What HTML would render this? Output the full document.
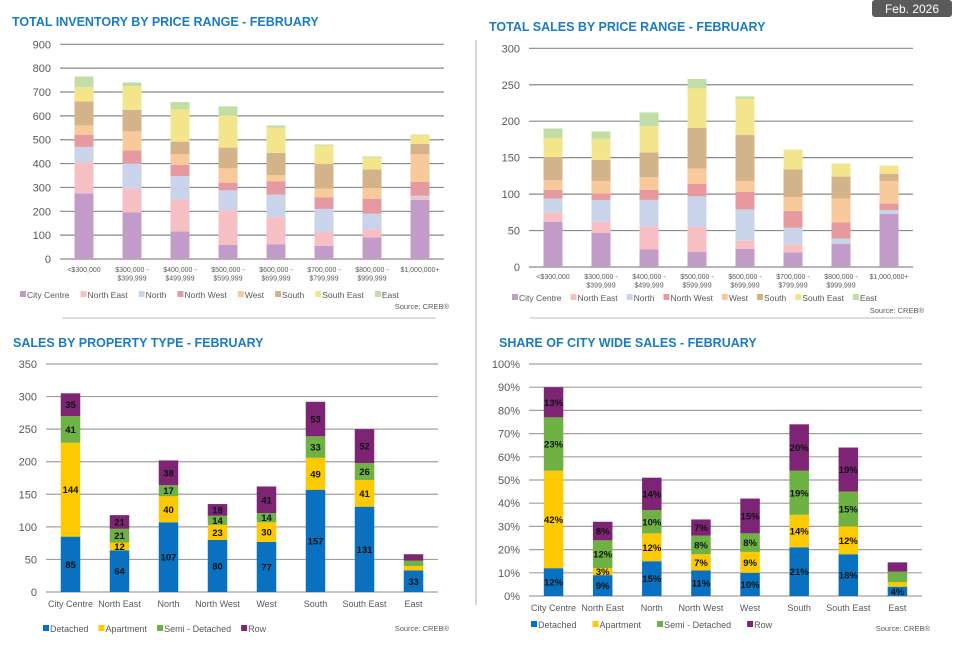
<!DOCTYPE html>
<html><head><meta charset="utf-8">
<style>
body{margin:0;background:#fff;width:956px;height:649px;overflow:hidden;font-family:"Liberation Sans",Arial,sans-serif}
svg{display:block}
.t{font-family:"Liberation Sans",Arial,sans-serif;font-weight:bold;fill:#1a7cc1;font-size:12.5px}
.ax{font-family:"Liberation Sans",Arial,sans-serif;fill:#595959}
</style></head>
<body>
<svg id="s" width="956" height="649" xmlns="http://www.w3.org/2000/svg">
<rect x="872" y="0" width="80" height="17" rx="3" fill="#5a5a5a"/>
<text x="912" y="13" text-anchor="middle" fill="#fff" font-size="12" font-family="Liberation Sans, sans-serif">Feb. 2026</text>
<line x1="476" y1="40" x2="476" y2="605" stroke="#c8c8c8" stroke-width="1.5"/>
<line x1="62" y1="318" x2="436" y2="318" stroke="#bbb"/>
<line x1="530" y1="318" x2="912" y2="318" stroke="#bbb"/>
<text class="t" x="12" y="26">TOTAL INVENTORY BY PRICE RANGE - FEBRUARY</text>
<text class="t" x="489" y="31">TOTAL SALES BY PRICE RANGE - FEBRUARY</text>
<text class="t" x="13" y="347">SALES BY PROPERTY TYPE - FEBRUARY</text>
<text class="t" x="499" y="347">SHARE OF CITY WIDE SALES - FEBRUARY</text>
</svg>
<script>
const priceCats=[["<$300,000"],["$300,000 -","$399,999"],["$400,000 -","$499,999"],["$500,000 -","$599,999"],["$600,000 -","$699,999"],["$700,000 -","$799,999"],["$800,000 -","$999,999"],["$1,000,000+"]];
const areaSeries=["City Centre","North East","North","North West","West","South","South East","East"];
const invCityCentre=[275,195,115,60,62,55,90,248];
const invNorthEast=[130,100,135,145,113,60,35,10];
const invNorth=[65,105,98,83,95,95,65,7];
const invNorthWest=[50,55,47,32,55,48,62,58];
const invWest=[40,80,45,60,27,37,46,117];
const invSouth=[100,90,52,87,93,103,77,42];
const invSouthEast=[60,100,135,135,105,77,50,38];
const invEast=[45,15,31,38,10,5,5,2];
const invTicks=[0,100,200,300,400,500,600,700,800,900];
const salesCityCentre=[62,47,24,21,25,20,32,73];
const salesNorthEast=[13,15,32,34,11,11,0,0];
const salesNorth=[19,30,36,42,43,23,7,5];
const salesNorthWest=[12,9,14,17,24,23,22,9];
const salesWest=[13,17,17,21,15,19,33,31];
const salesSouth=[32,29,34,56,63,38,30,10];
const salesSouthEast=[26,29,36,54,50,27,18,11];
const salesEast=[13,10,19,13,3,0,0,0];
const salesTicks=[0,50,100,150,200,250,300];
const areaCats=["City Centre","North East","North","North West","West","South","South East","East"];
const typeSeries=["Detached","Apartment","Semi - Detached","Row"];
const typeDetached=[85,64,107,80,77,157,131,33];
const typeApartment=[144,12,40,23,30,49,41,7];
const typeSemi=[41,21,17,14,14,33,26,8];
const typeRow=[35,21,38,18,41,53,52,10];
const typeLabelsShown=[[1,1,1,1],[1,1,1,1],[1,1,1,1],[1,1,1,1],[1,1,1,1],[1,1,1,1],[1,1,1,1],[1,0,0,0]];
const typeTicks=[0,50,100,150,200,250,300,350];
const shareDetached=[12,9,15,11,10,21,18,4];
const shareApartment=[42,3,12,7,9,14,12,2];
const shareSemi=[23,12,10,8,8,19,15,4.5];
const shareRow=[13,8,14,7,15,20,19,4];
const shareTicks=[0,10,20,30,40,50,60,70,80,90,100];

const areaColors=["#c39bc9","#f6bfc4","#c9d3ea","#e6999f","#f8c99a","#d5b38a","#f3e58c","#c2dea6"];
const typeColors=["#0a71c0","#fdc900","#6eb244","#7d2574"];
const NS="http://www.w3.org/2000/svg";
const svg=document.getElementById("s");
function mk(tag,attrs,parent){const e=document.createElementNS(NS,tag);for(const k in attrs)e.setAttribute(k,attrs[k]);(parent||svg).appendChild(e);return e;}

function chart(o){
  const g=mk("g",{});
  
  
  const max=o.ticks[o.ticks.length-1];
  const y=v=>o.y0-(v/max)*(o.y0-o.y1);
  const n=o.cats.length;
  const step=(o.x1-o.x0)/n;
  const xc=i=>o.x0+step*(i+0.5);
  o.ticks.forEach(t=>{
    const l=mk("line",{x1:o.x0,x2:o.x1,y1:y(t),y2:y(t),stroke:o.grid,"stroke-width":1.2},g);
    
    
    const tx=mk("text",{x:o.x0-9,y:y(t)+4,"text-anchor":"end","font-size":11,class:"ax"},g);
    tx.textContent=t+(o.suffix||"");
    
    
  });
  o.cats.forEach((c,i)=>{
    const lines=Array.isArray(c)?c:[c];
    lines.forEach((ln,j)=>{
      const tx=mk("text",{x:xc(i),y:o.catY+j*8.5,"text-anchor":"middle","font-size":o.catSize,class:"ax"},g);
      tx.textContent=ln;
      
      
    });
    let acc=0;
    o.series.forEach((arr,s)=>{
      const v=arr[i];
      const yt=y(acc+v),yb=y(acc);
      const r=mk("rect",{x:xc(i)-o.bw/2,y:yt,width:o.bw,height:Math.max(0,yb-yt),fill:o.colors[s]},g);
      
      
      if(o.labels&&o.labelShow[i][s]&&v>0){
        const tx=mk("text",{x:xc(i),y:(yt+yb)/2+3.5,"text-anchor":"middle","font-size":9.5,"font-weight":"bold",fill:"#111","font-family":"Liberation Sans, sans-serif"},g);
        tx.textContent=o.labels[s][i]+(o.suffix||"");
        
        
      }
      acc+=v;
    });
  });
  let lx=o.legX;
  o.names.forEach((nm,s)=>{
    const r=mk("rect",{x:lx,y:o.legY-7,width:6,height:6,fill:o.colors[s]},g);
    
    
    const tx=mk("text",{x:lx+7,y:o.legY,"font-size":o.legSize,class:"ax"},g);
    tx.textContent=nm;
    
    
    lx+=7+tx.getComputedTextLength()+o.legGap;
  });
  const src=mk("text",{x:o.srcX,y:o.srcY,"text-anchor":"end","font-size":7.5,class:"ax"},g);
  src.textContent="Source: CREB®";
  
  
}
chart({name:"inventory-chart",cats:priceCats,series:[invCityCentre,invNorthEast,invNorth,invNorthWest,invWest,invSouth,invSouthEast,invEast],colors:areaColors,names:areaSeries,ticks:invTicks,x0:60,x1:444,y0:259,y1:44.3,bw:19,grid:"#8a8a8a",catY:272,catSize:7,legX:20,legY:298,legSize:8.5,legGap:11,srcX:449,srcY:309});
chart({name:"sales-chart",cats:priceCats,series:[salesCityCentre,salesNorthEast,salesNorth,salesNorthWest,salesWest,salesSouth,salesSouthEast,salesEast],colors:areaColors,names:areaSeries,ticks:salesTicks,x0:529,x1:913,y0:267,y1:48.3,bw:19,grid:"#8a8a8a",catY:279,catSize:7,legX:512,legY:301,legSize:8.5,legGap:9,srcX:924,srcY:313});
chart({name:"property-type-chart",cats:areaCats,series:[typeDetached,typeApartment,typeSemi,typeRow],labels:[typeDetached,typeApartment,typeSemi,typeRow],labelShow:typeLabelsShown,colors:typeColors,names:typeSeries,ticks:typeTicks,x0:46,x1:438,y0:592,y1:364,bw:19.5,grid:"#a0a0a0",catY:607,catSize:9,legX:43,legY:632,legSize:9,legGap:10,srcX:449,srcY:631});
chart({name:"share-chart",cats:areaCats,series:[shareDetached,shareApartment,shareSemi,shareRow],labels:[shareDetached,shareApartment,shareSemi,shareRow],labelShow:typeLabelsShown,colors:typeColors,names:typeSeries,ticks:shareTicks,suffix:"%",x0:529,x1:922,y0:596,y1:364,bw:19.5,grid:"#a0a0a0",catY:611,catSize:9,legX:531,legY:628,legSize:9,legGap:16,srcX:930,srcY:631});
</script>
</body></html>
